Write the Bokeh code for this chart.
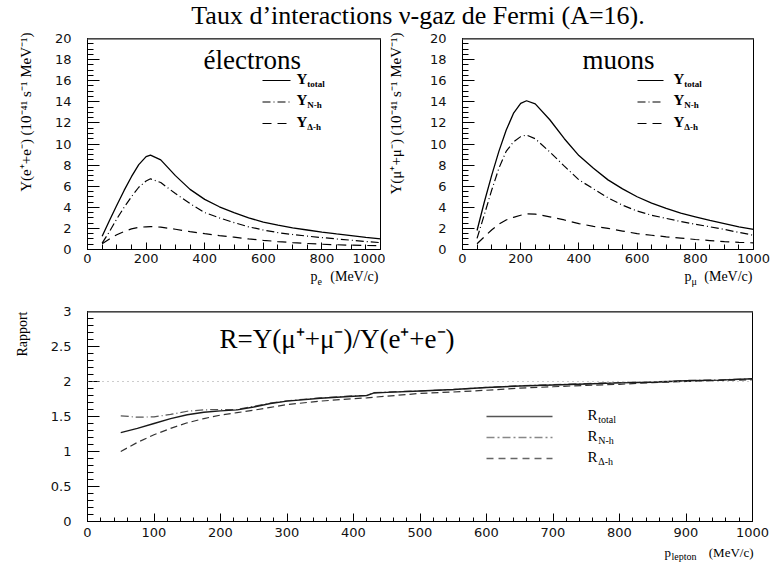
import math
from bokeh.plotting import figure
from bokeh.layouts import column, row
from bokeh.models import (Label, Arrow, Span, SingleIntervalTicker,
                          NumeralTickFormatter, Range1d)
from bokeh.embed import file_html
from bokeh.resources import INLINE

# ---------------- data ----------------
x_e = [50, 75, 100, 125, 150, 175, 200, 215, 250, 300, 350, 400, 450, 500,
       550, 600, 650, 700, 750, 800, 850, 900, 950, 1000]
e_total = [1.25, 2.75, 4.2, 5.6, 6.9, 8.05, 8.8, 8.95, 8.5, 7.0, 5.7, 4.75,
           4.05, 3.5, 3.0, 2.6, 2.3, 2.05, 1.85, 1.65, 1.48, 1.32, 1.15, 1.0]
e_nh = [0.6, 1.7, 2.9, 4.0, 5.0, 5.9, 6.5, 6.7, 6.35, 5.3, 4.35, 3.5,
        3.0, 2.55, 2.15, 1.85, 1.6, 1.42, 1.27, 1.13, 1.0, 0.88, 0.76, 0.65]
e_dh = [0.55, 1.0, 1.4, 1.7, 1.95, 2.1, 2.15, 2.17, 2.12, 1.92, 1.7, 1.5,
        1.32, 1.17, 1.0, 0.87, 0.75, 0.65, 0.57, 0.5, 0.45, 0.41, 0.38, 0.35]

x_mu = [50, 75, 100, 125, 150, 175, 200, 220, 250, 300, 350, 400, 450, 500,
        550, 600, 650, 700, 750, 800, 850, 900, 950, 1000]
mu_total = [1.8, 4.5, 7.0, 9.3, 11.3, 12.9, 13.85, 14.1, 13.8, 12.3, 10.5, 8.9,
            7.7, 6.6, 5.75, 5.0, 4.4, 3.9, 3.45, 3.1, 2.75, 2.45, 2.15, 1.9]
mu_nh = [1.05, 3.3, 5.6, 7.7, 9.3, 10.2, 10.7, 10.85, 10.5, 9.25, 7.9, 6.6,
         5.75, 4.9, 4.2, 3.65, 3.25, 2.95, 2.65, 2.4, 2.15, 1.9, 1.62, 1.35]
mu_dh = [0.55, 1.2, 1.85, 2.4, 2.8, 3.05, 3.25, 3.37, 3.35, 3.1, 2.8, 2.45,
         2.2, 2.0, 1.75, 1.5, 1.35, 1.2, 1.08, 0.95, 0.85, 0.75, 0.68, 0.63]

x_r = [50, 75, 100, 125, 150, 175, 200, 225, 250, 275, 300, 350, 400, 420, 430,
       450, 500, 550, 600, 650, 700, 750, 800, 850, 900, 950, 1000]
r_total = [1.27, 1.33, 1.40, 1.47, 1.525, 1.56, 1.58, 1.595, 1.635, 1.685, 1.72,
           1.76, 1.79, 1.80, 1.835, 1.845, 1.865, 1.885, 1.915, 1.935, 1.95,
           1.965, 1.98, 1.99, 2.01, 2.02, 2.04]
r_nh = [1.51, 1.49, 1.495, 1.53, 1.575, 1.595, 1.6, 1.6, 1.645, 1.69, 1.725,
        1.765, 1.795, 1.80, 1.84, 1.85, 1.865, 1.885, 1.915, 1.94, 1.955,
        1.97, 1.985, 1.995, 2.015, 2.025, 2.04]
r_dh = [1.0, 1.13, 1.24, 1.33, 1.41, 1.47, 1.52, 1.555, 1.59, 1.63, 1.67,
        1.72, 1.755, 1.765, 1.775, 1.79, 1.83, 1.85, 1.875, 1.905, 1.925,
        1.945, 1.96, 1.985, 2.0, 2.015, 2.025]
r_ref = 2.0

title_text = "Taux d\u2019interactions \u03bd-gaz de Fermi (A=16)."
ylab_e = "Y(e\u207a+e\u207b) (10\u207b\u2074\u00b9 s\u207b\u00b9 MeV\u207b\u00b9)"
ylab_mu = "Y(\u03bc\u207a+\u03bc\u207b) (10\u207b\u2074\u00b9 s\u207b\u00b9 MeV\u207b\u00b9)"
ratio_text = "R=Y(\u03bc\u207a+\u03bc\u207b)/Y(e\u207a+e\u207b)"

SERIF = "Liberation Serif"
SANS = "DejaVu Sans"
DASHDOT = "8 3 1 3"
DASHED = "9 6"
MID = 0.33  # middle-of-text offset above the baseline, in em


def no_align(p):
    try:
        p.frame_align = False
    except Exception:
        pass


def lab(p, x, y_base, text, size, bold=False, align="left", angle=0.0,
        color="black", font=SERIF):
    """Label in frame pixels; y_base is the baseline height."""
    yy = y_base + MID * size if angle == 0 else y_base
    p.add_layout(Label(x=x, y=yy, x_units="screen", y_units="screen",
                       text=text, text_font=font, text_font_size=f"{size}px",
                       text_font_style="bold" if bold else "normal",
                       text_align=align, text_baseline="middle", angle=angle,
                       text_color=color))


def seg(p, x0, x1, y, color, width, dash):
    p.add_layout(Arrow(end=None, x_start=x0, y_start=y, x_end=x1, y_end=y,
                       start_units="screen", end_units="screen",
                       line_color=color, line_width=width, line_dash=dash))


def text_fig(width, height):
    f = figure(width=width, height=height, x_range=Range1d(0, 1),
               y_range=Range1d(0, 1), toolbar_location=None,
               output_backend="svg", min_border=0,
               x_axis_location=None, y_axis_location=None)
    no_align(f)
    f.grid.visible = False
    f.outline_line_color = None
    return f


def make_fig(width, height, mbl, mbr, mbt, mbb, yr,
             xint, xminor, yint, yminor, xtick=(7, 5), ytick=(12, 6),
             xstand=4):
    p = figure(width=width, height=height, x_range=Range1d(0, 1000),
               y_range=Range1d(*yr), toolbar_location=None,
               output_backend="svg", min_border_left=mbl,
               min_border_right=mbr, min_border_top=mbt,
               min_border_bottom=mbb)
    no_align(p)
    p.grid.visible = False
    p.outline_line_color = "black"
    p.outline_line_width = 1
    p.xaxis.ticker = SingleIntervalTicker(interval=xint, num_minor_ticks=xminor)
    p.yaxis.ticker = SingleIntervalTicker(interval=yint, num_minor_ticks=yminor)
    for ax, (mj, mn), so in ((p.xaxis, xtick, xstand), (p.yaxis, ytick, 16)):
        ax.axis_line_color = "black"
        ax.major_tick_line_color = "black"
        ax.minor_tick_line_color = "black"
        ax.major_tick_in = mj
        ax.major_tick_out = 0
        ax.minor_tick_in = mn
        ax.minor_tick_out = 0
        ax.major_label_text_font = SANS
        ax.major_label_text_font_size = "13px"
        ax.major_label_text_color = "#111111"
        ax.major_label_standoff = so
    p.add_layout(Span(location=yr[1], dimension="width", line_color="#8c8c8c",
                      line_width=3))
    return p


def legend_rows(p, xl0, xl1, xt, rows, main, size_main, size_sub, bold,
                colors, widths, dashes):
    for (yb, sub), c, w, d in zip(rows, colors, widths, dashes):
        seg(p, xl0, xl1, yb + 3, c, w, d)
        lab(p, xt, yb, main, size_main, bold=bold)
        lab(p, xt + size_main * 0.72, yb - 3, sub, size_sub, bold=bold)


# ---------------- title strip (page y 0..30) ----------------
tf = text_fig(773, 30)
lab(tf, 417.5, 30 - 23.5, title_text, 26, align="center")

# ---------------- top row (page y 30..268) ----------------
TOP_H = 238
yt1 = text_fig(40, TOP_H)
lab(yt1, 25, TOP_H - 2, ylab_e, 15, align="right", angle=math.pi / 2)

p1 = make_fig(345, TOP_H, 47, 5, 8, 19, (0, 20), 200, 4, 2, 4)
p1.line(x_e, e_total, line_color="black", line_width=1.3)
p1.line(x_e, e_nh, line_color="black", line_width=1.2, line_dash=DASHDOT)
p1.line(x_e, e_dh, line_color="black", line_width=1.2, line_dash=DASHED)
lab(p1, 116, 181, "\u00e9lectrons", 27)
rows_y = [(166, "total"), (144.5, "N-h"), (123, "\u0394-h")]
legend_rows(p1, 175, 203, 209, rows_y, "Y", 15, 9, True,
            ["black"] * 3, [1.2] * 3, ["solid", DASHDOT, DASHED])

yt2 = text_fig(25, TOP_H)
lab(yt2, 10, TOP_H - 2, ylab_mu, 15, align="right", angle=math.pi / 2)

p2 = make_fig(363, TOP_H, 52, 20, 8, 19, (0, 20), 200, 4, 2, 4)
p2.line(x_mu, mu_total, line_color="black", line_width=1.3)
p2.line(x_mu, mu_nh, line_color="black", line_width=1.2, line_dash=DASHDOT)
p2.line(x_mu, mu_dh, line_color="black", line_width=1.2, line_dash=DASHED)
lab(p2, 120, 181, "muons", 27)
legend_rows(p2, 175, 201, 211, rows_y, "Y", 15, 9, True,
            ["black"] * 3, [1.2] * 3, ["solid", DASHDOT, DASHED])

# ---------------- x titles of the top row (page y 268..300) ----------------
xt = text_fig(773, 32)
XT_B = 300 - 281
lab(xt, 310, XT_B, "p", 14)
lab(xt, 317, XT_B - 3, "e", 10)
lab(xt, 378, XT_B, "(MeV/c)", 14, align="right")
lab(xt, 684, XT_B, "p", 14)
lab(xt, 691, XT_B - 3, "\u03bc", 10)
lab(xt, 752, XT_B, "(MeV/c)", 14, align="right")

# ---------------- ratio (page y 300..544) ----------------
BOT_H = 244
yt3 = text_fig(40, BOT_H)
lab(yt3, 22, BOT_H - 11, "Rapport", 14, align="right", angle=math.pi / 2)

p3 = make_fig(733, BOT_H, 47, 21, 11, 23, (0, 3), 100, 5, 0.5, 5,
              xtick=(8, 4), ytick=(12, 6), xstand=6)
p3.yaxis.formatter = NumeralTickFormatter(format="0.[0]")
p3.add_layout(Span(location=r_ref, dimension="width", line_color="#9a9a9a",
                   line_width=1, line_dash="1 4"))
p3.line(x_r, r_dh, line_color="#333333", line_width=1.2, line_dash="7 4")
p3.line(x_r, r_nh, line_color="#555555", line_width=1.2, line_dash=DASHDOT)
p3.line(x_r, r_total, line_color="#1a1a1a", line_width=1.4)
lab(p3, 132, 174, ratio_text, 27)
rows_r = [(102, "total"), (81, "N-h"), (60, "\u0394-h")]
legend_rows(p3, 399, 465, 500, rows_r, "R", 15, 10, False,
            ["#555555", "#888888", "#666666"], [1.6, 1.3, 1.3],
            ["solid", "8 3 2 3", "7 5"])

# ---------------- x title of the ratio (page y 544..562) ----------------
xb = text_fig(773, 18)
XB_B = 562 - 556
lab(xb, 664, XB_B, "p", 13)
lab(xb, 671, XB_B - 3, "lepton", 10)
lab(xb, 753, XB_B, "(MeV/c)", 13, align="right")

layout = column(tf, row(yt1, p1, yt2, p2), xt, row(yt3, p3), xb)
open("out.html", "w").write(file_html(layout, INLINE))
